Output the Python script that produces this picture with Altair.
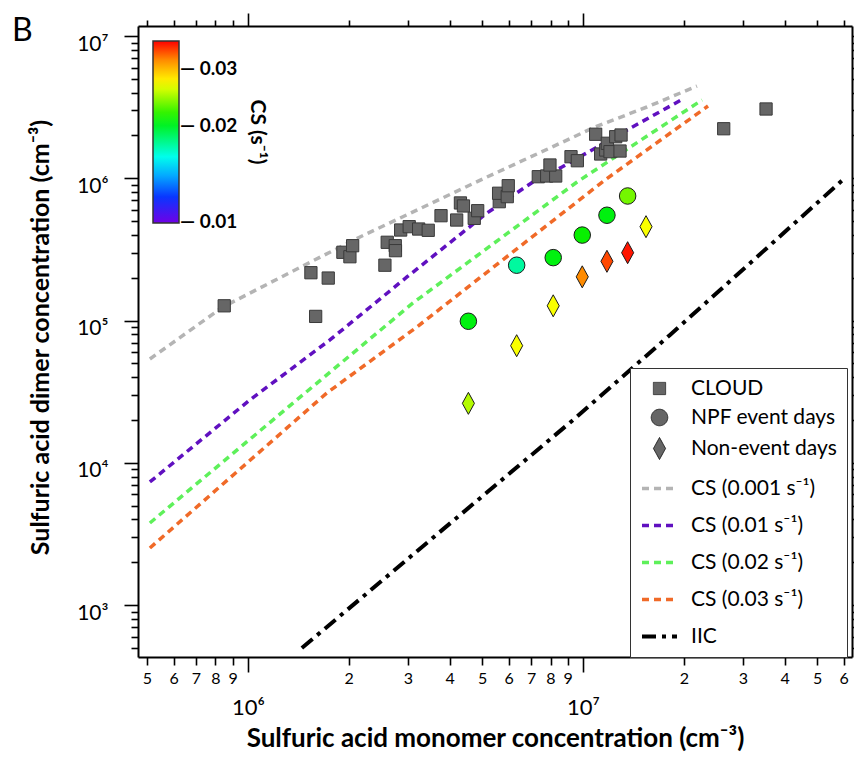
import altair as alt
import pandas as pd

# ---------------- data ----------------
cloud_x = [8.50e5, 1.542e6, 1.593e6, 1.737e6, 1.921e6, 2.016e6, 2.054e6, 2.564e6, 2.605e6, 2.753e6,
           2.757e6, 2.857e6, 3.03e6, 3.233e6, 3.453e6, 3.77e6, 4.198e6, 4.308e6, 4.398e6, 4.737e6,
           4.85e6, 5.626e6, 5.60e6, 5.943e6, 5.984e6, 7.356e6, 7.793e6, 8.29e6, 7.97e6, 9.21e6,
           9.62e6, 1.091e7, 1.129e7, 1.169e7, 1.182e7, 1.204e7, 1.252e7, 1.299e7, 1.29e7, 2.63e7, 3.518e7]
cloud_y = [1.27e5, 2.17e5, 1.07e5, 1.99e5, 3.02e5, 2.81e5, 3.36e5, 2.45e5, 3.55e5, 3.36e5,
           3.10e5, 4.33e5, 4.57e5, 4.40e5, 4.31e5, 5.46e5, 5.09e5, 6.71e5, 6.39e5, 5.23e5,
           5.92e5, 6.85e5, 7.85e5, 7.43e5, 8.87e5, 1.026e6, 1.038e6, 1.038e6, 1.24e6, 1.418e6,
           1.329e6, 2.04e6, 1.482e6, 1.581e6, 1.762e6, 1.538e6, 1.96e6, 2.015e6, 1.555e6, 2.23e6, 3.07e6]

npf_x = [4.55e6, 6.34e6, 8.15e6, 9.95e6, 1.179e7, 1.359e7]
npf_y = [9.89e4, 2.45e5, 2.77e5, 3.99e5, 5.50e5, 7.51e5]
npf_cs = [0.0205, 0.01745, 0.0205, 0.021, 0.0205, 0.0235]

non_x = [4.55e6, 6.34e6, 8.15e6, 9.95e6, 1.179e7, 1.359e7, 1.542e7]
non_y = [2.62e4, 6.66e4, 1.27e5, 2.03e5, 2.61e5, 3.00e5, 4.57e5]
non_cs = [0.0251, 0.027, 0.027, 0.032, 0.0342, 0.036, 0.027]

cs0001_x = [5.10e5, 8.42e5, 1.459e6, 2.16e6, 5.17e6, 7.97e6, 1.086e7, 1.552e7, 2.189e7]
cs0001_y = [5.37e4, 1.246e5, 2.42e5, 3.87e5, 1.021e6, 1.633e6, 2.294e6, 3.17e6, 4.45e6]
cs001_x = [5.10e5, 1.014e6, 1.757e6, 2.983e6, 5.17e6, 7.09e6, 8.656e6, 1.381e7, 1.988e7]
cs001_y = [7.34e3, 2.77e4, 7.31e4, 2.025e5, 5.70e5, 9.42e5, 1.20e6, 2.246e6, 3.61e6]
cs002_x = [5.10e5, 1.40e6, 3.109e6, 9.60e6, 2.266e7]
cs002_y = [3.78e3, 2.77e4, 1.33e5, 9.42e5, 3.55e6]
cs003_x = [5.10e5, 1.721e6, 3.195e6, 1.163e7, 2.361e7]
cs003_y = [2.52e3, 3.10e4, 9.02e4, 9.73e5, 3.22e6]
iic_x = [1.449e6, 9.34e6, 1.818e7, 6.05e7]
iic_y = [500, 2.0e4, 7.92e4, 1.005e6]

# axis tick positions
x_minor = [5e5, 6e5, 7e5, 8e5, 9e5, 2e6, 3e6, 4e6, 5e6, 6e6, 7e6, 8e6, 9e6,
           2e7, 3e7, 4e7, 5e7, 6e7]
x_major = [1e6, 1e7]
y_minor = [5e2, 6e2, 7e2, 8e2, 9e2, 2e3, 3e3, 4e3, 5e3, 6e3, 7e3, 8e3, 9e3,
           2e4, 3e4, 4e4, 5e4, 6e4, 7e4, 8e4, 9e4, 2e5, 3e5, 4e5, 5e5, 6e5, 7e5, 8e5, 9e5,
           2e6, 3e6, 4e6, 5e6, 6e6, 7e6, 8e6, 9e6]
y_major = [1e3, 1e4, 1e5, 1e6, 1e7]
cs_ticks = [0.01, 0.02, 0.03]

series_names = ["CLOUD", "NPF event days", "Non-event days", "CS (0.001 s⁻¹)",
                "CS (0.01 s⁻¹)", "CS (0.02 s⁻¹)", "CS (0.03 s⁻¹)", "IIC"]
panel_label = ["B"]

# ---------------- styles ----------------
FONT = "Lato"
stroke_colors = ["#3a3a3a", "#1a1a1a", "#1a1a1a", "#b4b4b4", "#6010c0", "#5ef05a", "#f06a28", "#000000"]
shapes = ["square", "circle", "M0,-1L0.55,0L0,1L-0.55,0Z", "stroke", "stroke", "stroke", "stroke", "stroke"]
sizes = [150, 272, 484, 1225, 1225, 1225, 1225, 1225]
widths = [1, 1, 1, 3.5, 3.5, 3.5, 3.5, 4]
dashes = [[1, 0], [1, 0], [1, 0], [7, 5], [7, 5], [7, 5], [7, 5], [14, 6, 4, 6]]
cs_stops = [0.00995, 0.01178, 0.01567, 0.02085, 0.02715, 0.03157, 0.0367]
cs_colors = ["#7000e6", "#0a28ff", "#00ffff", "#00f000", "#ffff00", "#ff9900", "#ff0000"]

# ---------------- tables ----------------
sq_df = pd.DataFrame({"x": cloud_x, "y": cloud_y, "series": "CLOUD"})
col_df = pd.concat([
    pd.DataFrame({"x": npf_x, "y": npf_y, "cs": npf_cs, "series": "NPF event days"}),
    pd.DataFrame({"x": non_x, "y": non_y, "cs": non_cs, "series": "Non-event days"}),
], ignore_index=True)
line_parts = []
for name, xs, ys in [(series_names[3], cs0001_x, cs0001_y), (series_names[4], cs001_x, cs001_y),
                     (series_names[5], cs002_x, cs002_y), (series_names[6], cs003_x, cs003_y),
                     (series_names[7], iic_x, iic_y)]:
    line_parts.append(pd.DataFrame({"x": xs, "y": ys, "series": name, "ord": list(range(len(xs)))}))
lines_df = pd.concat(line_parts, ignore_index=True)

xscale = alt.Scale(type="log", domain=[4.7e5, 6.35e7], nice=False)
yscale = alt.Scale(type="log", domain=[432, 1.176e7], nice=False)

sup = "['⁰','¹','²','³','⁴','⁵','⁶','⁷','⁸','⁹']"
dec_label = "'10' + " + sup + "[round(log(datum.value)/LN10)]"
digit_label = "format(round(datum.value / pow(10, floor(log(datum.value)/LN10 + 1e-9))), 'd')"


def ax(orient, values, size, **kw):
    base = dict(orient=orient, values=values, tickSize=size, tickWidth=1.6, tickColor="black",
                grid=False, domain=False, labels=False, title=None, ticks=True,
                labelFont=FONT, labelColor="black", titleFont=FONT, titleColor="black")
    base.update(kw)
    return alt.Axis(**base)


def catleg():
    return alt.Legend(orient="none", legendX=492, legendY=342, title=None, padding=10,
                      strokeColor="#333333", fillColor="white", labelFont=FONT, labelFontSize=21,
                      labelColor="black", labelOffset=12, rowPadding=7, labelLimit=300,
                      symbolFillColor="#2a2a2a")


def ser(ch, rng):
    return ch("series:N", scale=alt.Scale(type="ordinal", domain=series_names, range=rng),
              legend=catleg())


line_layer = alt.Chart(lines_df).mark_line().encode(
    x=alt.X("x:Q", scale=xscale,
            axis=ax("bottom", x_minor, 8, labels=True, labelExpr=digit_label, labelFontSize=16,
                    labelPadding=5, domain=True, domainColor="black", domainWidth=2)),
    y=alt.Y("y:Q", scale=yscale,
            axis=ax("left", y_minor, 7, domain=True, domainColor="black", domainWidth=2)),
    stroke=ser(alt.Stroke, stroke_colors),
    strokeDash=ser(alt.StrokeDash, dashes),
    strokeWidth=ser(alt.StrokeWidth, widths),
    order=alt.Order("ord:Q"),
)

sq_layer = alt.Chart(sq_df).mark_point(filled=True, fill="#666666", opacity=1).encode(
    x=alt.X("x:Q", scale=xscale,
            axis=ax("bottom", x_major, 15, labels=True, labelExpr=dec_label, labelFontSize=22,
                    labelPadding=25, title="Sulfuric acid monomer concentration (cm⁻³)",
                    titleFontSize=26, titleFontWeight="bold", titleY=89,
                    titleBaseline="alphabetic")),
    y=alt.Y("y:Q", scale=yscale,
            axis=ax("left", y_major, 14, labels=True, labelExpr=dec_label, labelFontSize=21,
                    labelPadding=16, labelOffset=8,
                    title="Sulfuric acid dimer concentration (cm⁻³)", titleFontSize=25,
                    titleFontWeight="bold", titleX=-98, titleY=311, titleBaseline="middle")),
    shape=ser(alt.Shape, shapes),
    size=ser(alt.Size, sizes),
    stroke=ser(alt.Stroke, stroke_colors),
    strokeWidth=ser(alt.StrokeWidth, widths),
)

col_layer = alt.Chart(col_df).mark_point(filled=True, opacity=1).encode(
    x=alt.X("x:Q", scale=xscale,
            axis=ax("top", x_minor, 6, domain=True, domainColor="black", domainWidth=2)),
    y=alt.Y("y:Q", scale=yscale,
            axis=ax("right", y_minor, 7, domain=True, domainColor="black", domainWidth=2)),
    fill=alt.Fill("cs:Q",
                  scale=alt.Scale(type="log", domain=cs_stops, range=cs_colors, interpolate="rgb"),
                  legend=alt.Legend(orient="none", legendX=15, legendY=15, direction="vertical",
                                    gradientLength=182, gradientThickness=26,
                                    gradientStrokeColor="#333333", gradientStrokeWidth=1.5,
                                    values=cs_ticks,
                                    labelExpr="'— ' + format(datum.value, '.2f')",
                                    labelFont=FONT, labelFontSize=19, labelFontWeight="bold",
                                    labelColor="black", labelOffset=1, padding=0,
                                    title="CS (s⁻¹)", titleOrient="right", titleAnchor="middle",
                                    titleFont=FONT, titleFontSize=21, titleFontWeight="bold",
                                    titleColor="black", titlePadding=10)),
    shape=ser(alt.Shape, shapes),
    size=ser(alt.Size, sizes),
    stroke=ser(alt.Stroke, stroke_colors),
    strokeWidth=ser(alt.StrokeWidth, widths),
)

inv_layer = alt.Chart(col_df).mark_point(opacity=0).encode(
    x=alt.X("x:Q", scale=xscale, axis=ax("top", x_major, 13)),
    y=alt.Y("y:Q", scale=yscale, axis=ax("right", y_major, 13)),
)

label_layer = alt.Chart(pd.DataFrame({"t": panel_label})).mark_text(
    font=FONT, fontSize=32, align="left", baseline="alphabetic", color="black"
).encode(text="t:N", x=alt.value(-126), y=alt.value(15))

chart = alt.layer(line_layer, sq_layer, col_layer, inv_layer, label_layer).resolve_axis(
    x="independent", y="independent"
).properties(
    width=714, height=631,
    autosize=alt.AutoSizeParams(type="none"),
    padding={"left": 130, "top": 18, "right": 2, "bottom": 97},
).configure_view(strokeWidth=0)

chart.save("out.html", embed_options={"renderer": "svg", "actions": False})
